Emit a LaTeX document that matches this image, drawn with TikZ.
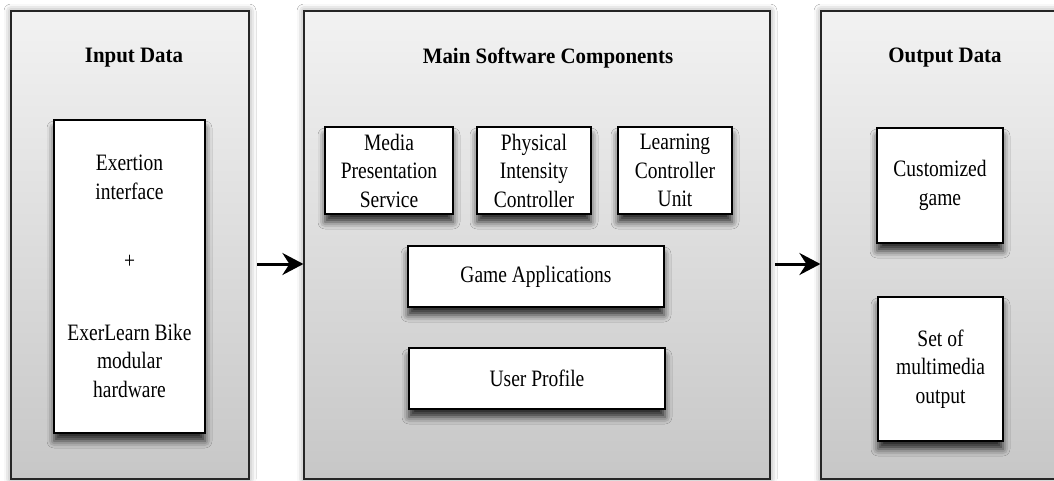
\documentclass[tikz,border=0pt]{standalone}
\usepackage{fontspec}
\setmainfont{Liberation Serif}[FakeStretch=0.83]
\newfontfamily\ttlfont{Liberation Serif}[FakeStretch=0.95]
\usetikzlibrary{shadows.blur,arrows.meta}
\begin{document}
\begin{tikzpicture}[x=1pt,y=-1pt,
  panel/.style={draw=black!85,line width=1.2pt,top color=black!5,bottom color=black!22,
     rectangle,inner sep=0pt,
     blur shadow={shadow xshift=0pt,shadow yshift=0pt,shadow blur radius=7pt,shadow opacity=45}},
  box/.style={draw=black,line width=1.6pt,fill=white,rectangle,inner sep=2pt,align=center,
     font=\fontsize{23.5}{28.5}\selectfont,
     blur shadow={shadow xshift=0pt,shadow yshift=-8pt,shadow blur radius=7pt,shadow opacity=80}},
  ttl/.style={font=\fontsize{22}{26}\selectfont\ttlfont\bfseries,inner sep=0pt},
  arr/.style={line width=3pt,-{Stealth[length=21pt,width=22pt,inset=7pt]}}]
\useasboundingbox (0,0) rectangle (1054,480);
\clip (0,0) rectangle (1054,480);
\fill[white] (0,0) rectangle (1054,480);
% panels
\node[panel,minimum width=238,minimum height=468] (inp) at (130,245) {};
\node[panel,minimum width=466,minimum height=468] (mid) at (537,245) {};
\node[panel,minimum width=260,minimum height=468] (out) at (951,245) {};
% titles
\node[ttl] (tin) at (134,58) {Input Data};
\node[ttl] (tmid) at (548,58) {Main Software Components};
\node[ttl] (tout) at (945,58) {Output Data};
% input box
\node[box,minimum width=151,minimum height=313] (ib) at (129.5,276.5)
  {Exertion\\interface\\[41pt]+\\[43pt]ExerLearn Bike\\modular\\hardware};
% middle boxes
\node[box,minimum width=128,minimum height=87] (mps) at (389,170.5) {Media\\Presentation\\Service};
\node[box,minimum width=114,minimum height=87] (pic) at (534,170.5) {Physical\\Intensity\\Controller};
\node[box,minimum width=114,minimum height=87] (lcu) at (675,170.5) {Learning\\Controller\\Unit};
\node[box,minimum width=256,minimum height=61] (ga) at (536,276.5) {Game Applications};
\node[box,minimum width=256,minimum height=61] (up) at (537,378.5) {User Profile};
% output boxes
\node[box,minimum width=126,minimum height=115] (cg) at (940,185.5) {Customized\\game};
\node[box,minimum width=125,minimum height=144] (smo) at (940.5,369) {Set of\\multimedia\\output};
% arrows
\coordinate (a1) at (257,264);
\coordinate (a2) at (775,264);
\draw[arr] (a1) -- (mid.west |- a1);
\draw[arr] (a2) -- (out.west |- a2);
\end{tikzpicture}
\end{document}
